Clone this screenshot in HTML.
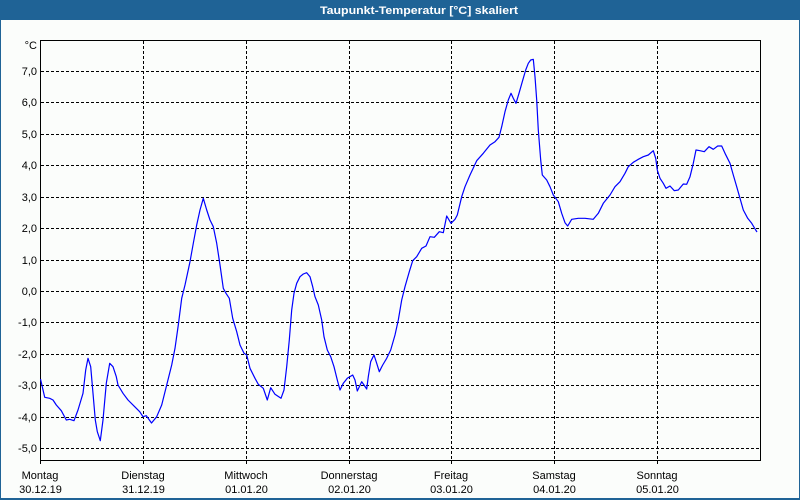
<!DOCTYPE html>
<html><head><meta charset="utf-8"><style>
html,body{margin:0;padding:0;background:#fbfdfb;}
svg{display:block;}
text{font-family:"Liberation Sans","DejaVu Sans",sans-serif;font-size:11px;fill:#000;}
</style></head><body>
<svg width="800" height="500" viewBox="0 0 800 500" xmlns="http://www.w3.org/2000/svg">
<rect x="0" y="0" width="800" height="500" fill="#fbfdfb"/>
<!-- frame -->
<rect x="0" y="0" width="800" height="20" fill="#1f6396"/>
<rect x="0" y="0" width="1" height="500" fill="#1f6396"/>
<rect x="799" y="0" width="1" height="500" fill="#1f6396"/>
<rect x="0" y="498" width="800" height="2" fill="#1f6396"/>
<text x="320" y="14" textLength="198" lengthAdjust="spacingAndGlyphs" style="font-weight:bold;fill:#fff;">Taupunkt-Temperatur [°C] skaliert</text>

<!-- horizontal gridlines -->
<g stroke="#000" stroke-width="1" stroke-dasharray="3,2" fill="none">
<line x1="41" y1="71.5" x2="760" y2="71.5"/>
<line x1="41" y1="102.5" x2="760" y2="102.5"/>
<line x1="41" y1="134.5" x2="760" y2="134.5"/>
<line x1="41" y1="165.5" x2="760" y2="165.5"/>
<line x1="41" y1="197.5" x2="760" y2="197.5"/>
<line x1="41" y1="228.5" x2="760" y2="228.5"/>
<line x1="41" y1="260.5" x2="760" y2="260.5"/>
<line x1="41" y1="291.5" x2="760" y2="291.5"/>
<line x1="41" y1="322.5" x2="760" y2="322.5"/>
<line x1="41" y1="354.5" x2="760" y2="354.5"/>
<line x1="41" y1="385.5" x2="760" y2="385.5"/>
<line x1="41" y1="417.5" x2="760" y2="417.5"/>
<line x1="41" y1="448.5" x2="760" y2="448.5"/>
<!-- vertical gridlines -->
<line x1="143.5" y1="41" x2="143.5" y2="464"/>
<line x1="246.5" y1="41" x2="246.5" y2="464"/>
<line x1="349.5" y1="41" x2="349.5" y2="464"/>
<line x1="451.5" y1="41" x2="451.5" y2="464"/>
<line x1="554.5" y1="41" x2="554.5" y2="464"/>
<line x1="657.5" y1="41" x2="657.5" y2="464"/>
</g>

<!-- axes frame -->
<g stroke="#000" stroke-width="1" fill="none">
<path d="M40.5 40.5 H760.5 V460.5 H40.5 Z"/>
<line x1="40.5" y1="460" x2="40.5" y2="464"/>
</g>

<!-- y labels -->
<g text-anchor="end">
<text x="37" y="49">°C</text>
<text x="37" y="75">7,0</text>
<text x="37" y="106">6,0</text>
<text x="37" y="138">5,0</text>
<text x="37" y="169">4,0</text>
<text x="37" y="201">3,0</text>
<text x="37" y="232">2,0</text>
<text x="37" y="264">1,0</text>
<text x="37" y="295">0,0</text>
<text x="37" y="326">-1,0</text>
<text x="37" y="358">-2,0</text>
<text x="37" y="389">-3,0</text>
<text x="37" y="421">-4,0</text>
<text x="37" y="452">-5,0</text>
</g>

<!-- x labels -->
<g text-anchor="middle">
<text x="40" y="479">Montag</text>
<text x="40.5" y="493">30.12.19</text>
<text x="143" y="479">Dienstag</text>
<text x="143.5" y="493">31.12.19</text>
<text x="246" y="479">Mittwoch</text>
<text x="246.5" y="493">01.01.20</text>
<text x="349" y="479">Donnerstag</text>
<text x="349.5" y="493">02.01.20</text>
<text x="451" y="479">Freitag</text>
<text x="451.5" y="493">03.01.20</text>
<text x="554" y="479">Samstag</text>
<text x="554.5" y="493">04.01.20</text>
<text x="657" y="479">Sonntag</text>
<text x="657.5" y="493">05.01.20</text>
</g>

<!-- series -->
<polyline fill="none" stroke="#0000ff" stroke-width="1.2" stroke-linejoin="round" points="
40.5,379 44.7,397.3 49.7,398.3 53,400 56.3,405 61.3,410.7 66.3,420 69.7,419.3 74,420.7 78,410 83,393.3 85.7,370 88,358.3 90.7,366.7 93,393.3 95.3,420 97.3,431.7 100.3,440.7 103,420 106.3,383.3 109.7,363.3 113,366.7 116.3,376.7 118,385 123,393.3 128,400 134.7,406.7 139.7,411.7 143,416.7 146.3,415.7 151.5,423 156.7,416.7 161.7,405 166.7,385 171.7,365 175,348.3 178.3,325 181.7,298.3 185,285 190,261.7 193.3,243.3 196.7,225 200,210 203.3,198.3 206.7,210 210,220 213.3,226.7 216.7,243.3 220,265 223.3,288.3 226,293.3 229.3,298.3 232.7,318.3 236.7,331.7 240,345 244,353.3 246.7,355 250,368.3 255,378.3 258.3,384.3 263.3,388.3 267.3,400 270.7,387.7 275,394.3 281,398.3 284,390 286.7,366.7 289.3,340 291.7,310 294,293.3 296.7,283.3 300,276.7 303.3,274 306.7,272.7 310,276.7 312.7,286.7 315,296.7 318.3,305 321.7,320 324,336.7 327.3,350 330.7,356.7 334,366.7 337.3,380 340,390 343.3,383.3 347.3,378.3 352.7,375 355,380 357.3,391 361.7,381.7 364,385 366.7,389 368.3,376.7 370.7,361.7 374,355 376.7,363.3 379.3,371.7 382.7,365 386.7,358.3 390.7,350 395,335 398.3,320 401.7,300 405,286.7 409.3,271.7 412.7,260.7 416.7,256.7 421.7,248.3 426,246 430,236.7 434.3,237.3 439.3,231.7 443.3,232.7 446.7,216 451,223.3 455,219.3 457.3,215 461.7,196.7 465,186.7 470,175 476.7,160.7 483.3,153.3 490,145 495,141.7 499,137.3 501.7,126.7 505,111.7 508.3,100 511,93.3 513.3,98.3 516,103.3 519,93.3 522.3,81.7 525.7,70 528.3,63.3 530.7,60 533.3,59.3 535,76.7 536.7,100 538.3,130 540.7,160 542.3,175 546.7,180 550,186.7 553.3,195 558.3,201.7 561.7,213.3 565,222.7 567.7,226 571.7,219.3 578.3,218.3 585,218.3 593.3,219.3 598.3,213.3 603.3,203.3 610,195 615,186.7 620,181.7 625,173.3 628.3,166.7 633.3,162.3 638.3,159.3 643.3,156.7 648.3,155 653.3,150.7 655.7,158.3 657.3,170 660,178.3 663.3,183.3 666,188.3 670,186 674.3,190.7 678.3,190 683.3,184 686.7,184.3 690,176.7 693.3,163.3 696,150 700,150.7 704.3,151.7 709,146.7 713.3,149.3 717.7,146 721.7,146 725,153.3 730,163.3 733.3,175 736.7,186.7 740,198.3 743.3,210 747.7,218.3 751.7,223.3 755.7,230 757,232"/>
</svg>
</body></html>
